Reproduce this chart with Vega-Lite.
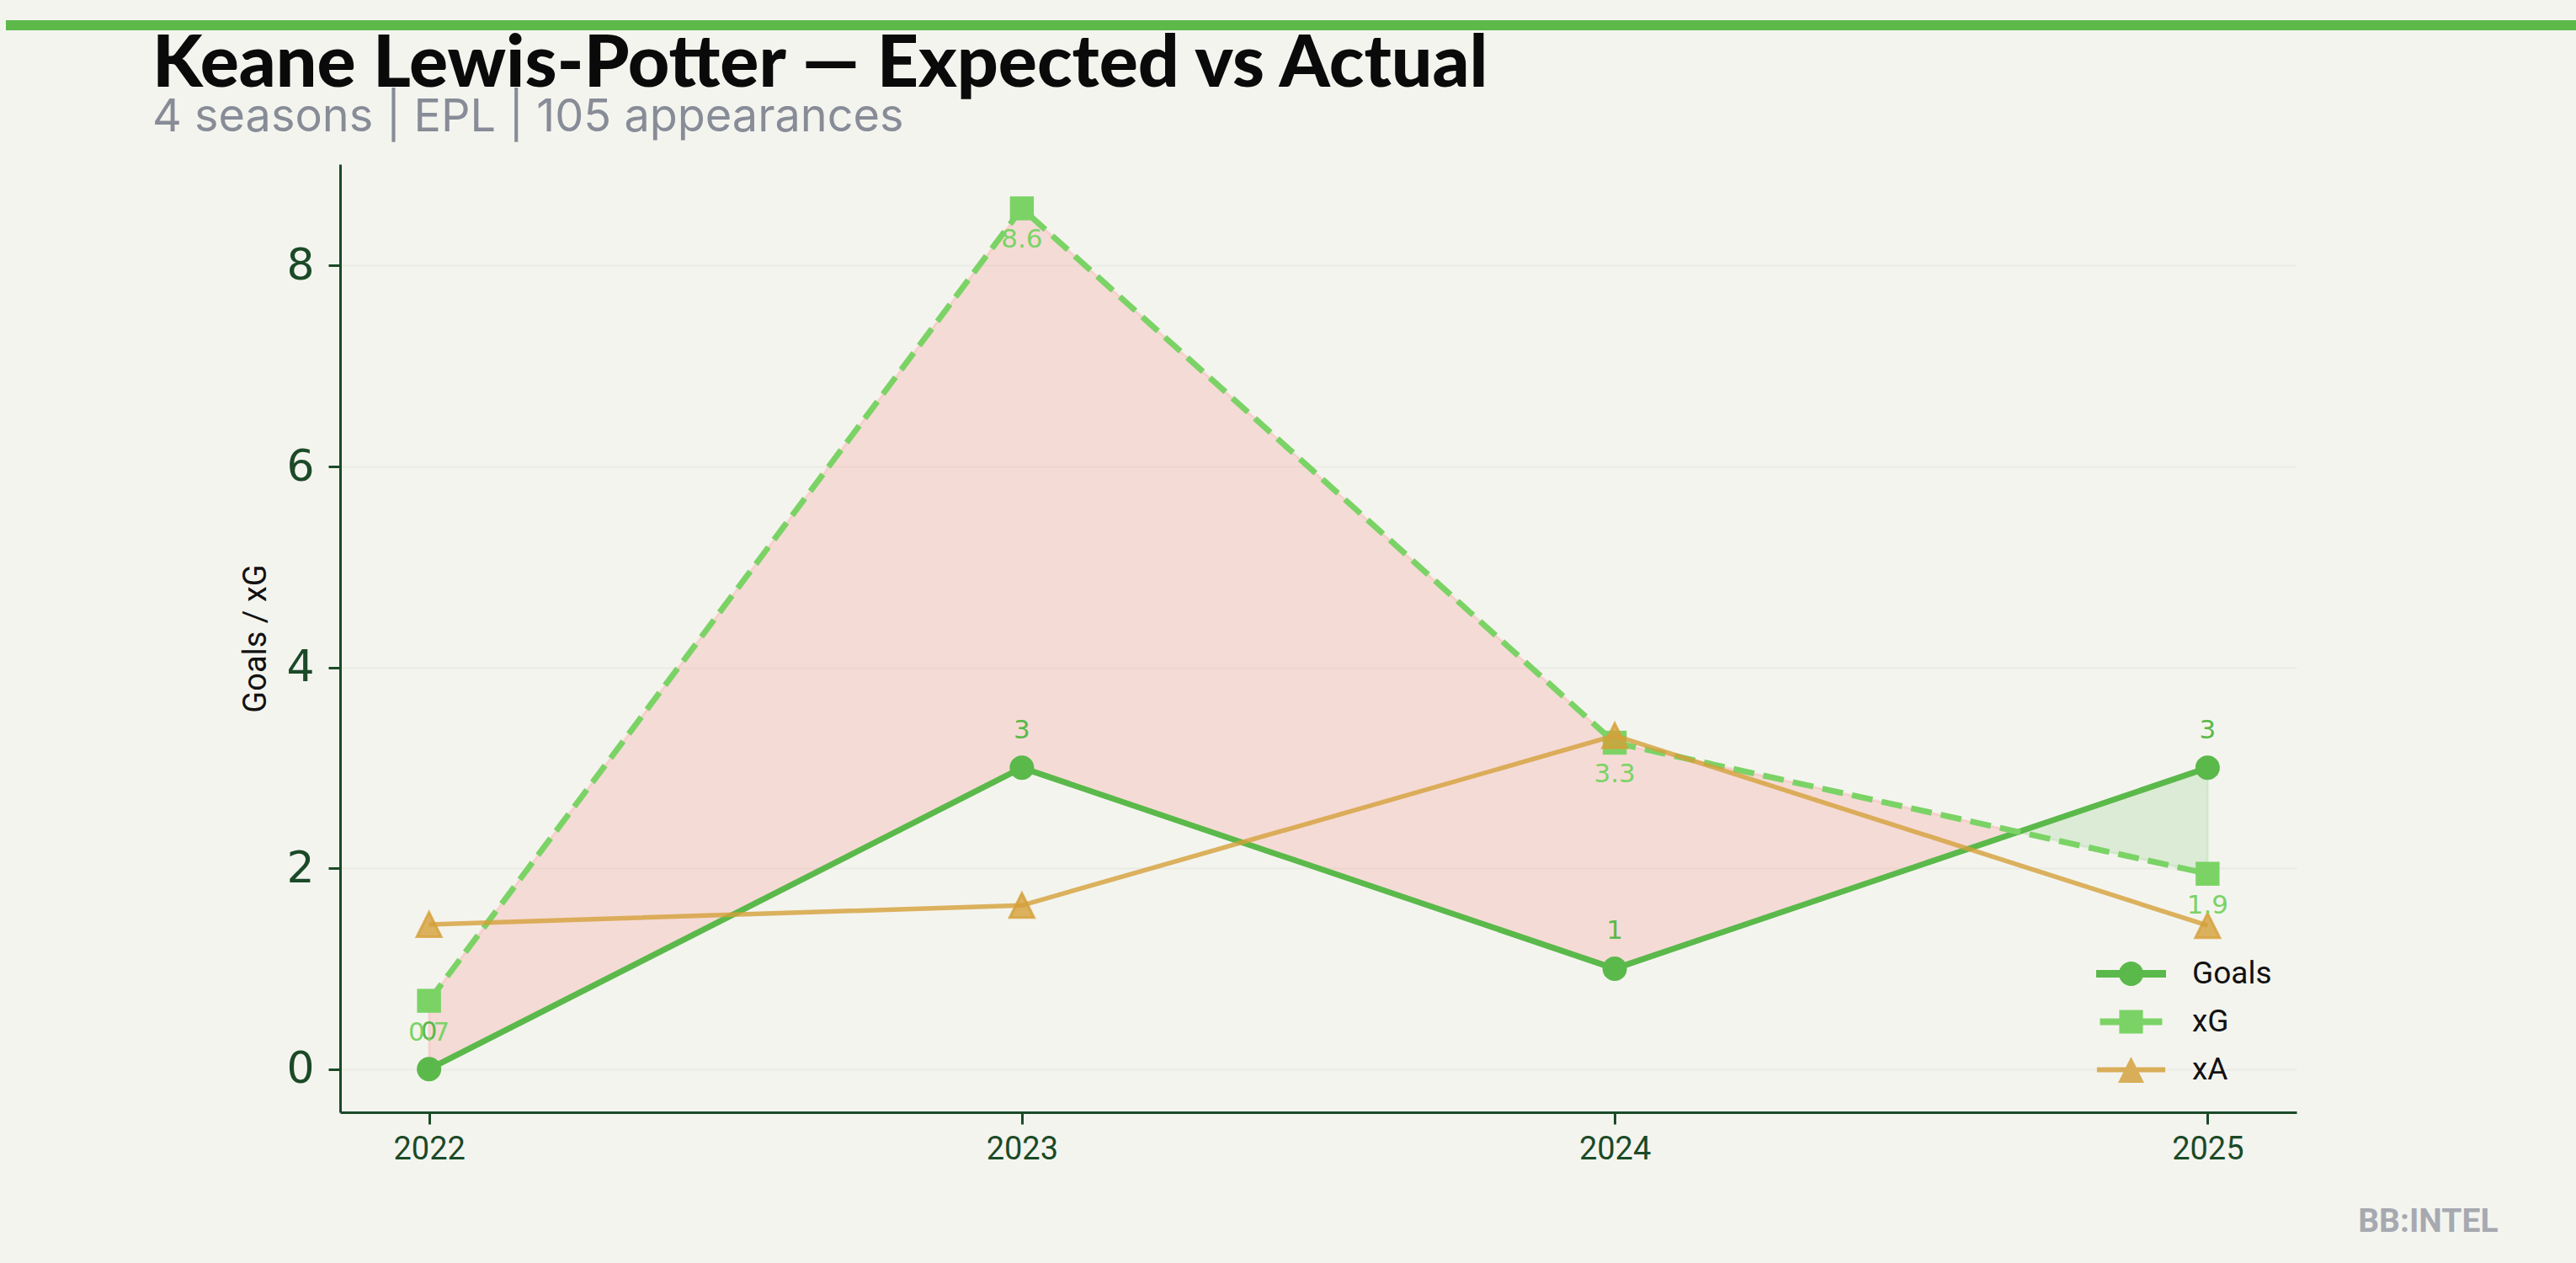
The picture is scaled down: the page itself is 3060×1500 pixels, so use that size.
{
  "$schema": "https://vega.github.io/schema/vega-lite/v6.json",
  "background": "#F4F4EF",
  "autosize": {"type": "none"},
  "padding": {"left": 7, "top": 24, "right": 3053, "bottom": 1476},
  "bounds": "flush",
  "spacing": 159,
  "config": {
    "view": {"stroke": null},
    "axis": {"domainColor": "#1B4A27", "domainWidth": 3, "tickColor": "#1B4A27", "tickWidth": 3, "tickSize": 14, "labelColor": "#1B4A27"}
  },
  "datasets": {
    "stats": [
      {"season": 2022, "series": "Goals", "value": 0},
      {"season": 2023, "series": "Goals", "value": 3},
      {"season": 2024, "series": "Goals", "value": 1},
      {"season": 2025, "series": "Goals", "value": 3},
      {"season": 2022, "series": "xG", "value": 0.68},
      {"season": 2023, "series": "xG", "value": 8.57},
      {"season": 2024, "series": "xG", "value": 3.25},
      {"season": 2025, "series": "xG", "value": 1.945},
      {"season": 2022, "series": "xA", "value": 1.44},
      {"season": 2023, "series": "xA", "value": 1.63},
      {"season": 2024, "series": "xA", "value": 3.32},
      {"season": 2025, "series": "xA", "value": 1.43}
    ],
    "gap": [
      {"season": 2022, "goals": 0, "xg": 0.68, "side": "under"},
      {"season": 2023, "goals": 3, "xg": 8.57, "side": "under"},
      {"season": 2024, "goals": 1, "xg": 3.25, "side": "under"},
      {"season": 2024.68, "goals": 2.36, "xg": 2.36, "side": "under"},
      {"season": 2024.68, "goals": 2.36, "xg": 2.36, "side": "over"},
      {"season": 2025, "goals": 3, "xg": 1.945, "side": "over"}
    ]
  },
  "vconcat": [
    {
      "width": 3053, "height": 12,
      "view": {"fill": "#5CB94A", "stroke": null},
      "data": {"values": [{"k": 1}]},
      "mark": {"type": "point", "opacity": 0},
      "encoding": {}
    },
    {
      "bounds": "flush",
      "spacing": 0,
      "hconcat": [
        {
          "width": 397, "height": 1126,
          "data": {"values": [{"k": 1}]},
          "mark": {"type": "point", "opacity": 0},
          "encoding": {}
        },
        {
          "width": 2324, "height": 1126,
          "title": {
            "text": "Keane Lewis-Potter — Expected vs Actual",
            "subtitle": "4 seasons | EPL | 105 appearances",
            "anchor": "start", "frame": "group", "dx": -223, "offset": 27,
            "font": "Lato", "fontSize": 86, "fontWeight": 900, "color": "#0A0A0A",
            "subtitleFont": "Inter", "subtitleFontSize": 54, "subtitleColor": "#878C97", "subtitlePadding": -8
          },
          "data": {"name": "stats"},
          "encoding": {
            "x": {
              "field": "season", "type": "quantitative",
              "scale": {"domain": [2021.85, 2025.15], "nice": false, "zero": false},
              "axis": {
                "values": [2022, 2023, 2024, 2025], "format": "d", "grid": false, "labelFlush": false,
                "labelFont": "Roboto", "labelFontSize": 38, "labelPadding": 11,
                "title": "BB:INTEL", "titleFont": "Roboto", "titleFontWeight": "bold", "titleFontSize": 39,
                "titleColor": "#A6A9B0", "titleX": 2563, "titleY": 141, "titleAlign": "right", "titleBaseline": "alphabetic"
              }
            }
          },
          "layer": [
            {
              "data": {"name": "gap"},
              "transform": [{"filter": "datum.side === 'under'"}],
              "mark": {"type": "area", "fill": "#FF5048", "fillOpacity": 0.15, "stroke": "#FF5048", "strokeOpacity": 0.12, "strokeWidth": 3},
              "encoding": {
                "y": {
                  "field": "goals", "type": "quantitative", "title": "Goals / xG",
                  "scale": {"domain": [-0.43, 9.01], "nice": false, "zero": false},
                  "axis": {
                    "values": [0, 2, 4, 6, 8], "format": "d", "grid": true, "gridColor": "#EAEBE4", "gridWidth": 2,
                    "labelFont": "DejaVu Sans", "labelFontSize": 52, "labelPadding": 17,
                    "title": "Goals / xG", "titleFont": "Roboto", "titleFontSize": 38, "titleFontWeight": "normal",
                    "titleColor": "#111111", "titleX": -100, "titleY": 563, "titleAngle": -90,
                    "titleAlign": "center", "titleBaseline": "middle"
                  }
                },
                "y2": {"field": "xg", "title": "Goals / xG"}
              }
            },
            {
              "data": {"name": "gap"},
              "transform": [{"filter": "datum.side === 'over'"}],
              "mark": {"type": "area", "fill": "#5AB94A", "fillOpacity": 0.15, "stroke": "#5AB94A", "strokeOpacity": 0.12, "strokeWidth": 3},
              "encoding": {
                "y": {"field": "goals", "type": "quantitative", "title": "Goals / xG"},
                "y2": {"field": "xg", "title": "Goals / xG"}
              }
            },
            {
              "transform": [{"filter": "datum.series === 'Goals'"}],
              "mark": {"type": "line", "color": "#5AB94A", "strokeWidth": 7},
              "encoding": {"y": {"field": "value", "type": "quantitative", "title": "Goals / xG"}}
            },
            {
              "transform": [{"filter": "datum.series === 'Goals'"}],
              "mark": {"type": "point", "shape": "circle", "filled": true, "color": "#5AB94A", "opacity": 1, "size": 841},
              "encoding": {"y": {"field": "value", "type": "quantitative", "title": "Goals / xG"}}
            },
            {
              "transform": [{"filter": "datum.series === 'xG'"}],
              "mark": {"type": "line", "color": "#7BD366", "strokeWidth": 7, "strokeDash": [25, 11]},
              "encoding": {"y": {"field": "value", "type": "quantitative", "title": "Goals / xG"}}
            },
            {
              "transform": [{"filter": "datum.series === 'xG'"}],
              "mark": {"type": "point", "shape": "square", "filled": true, "color": "#7BD366", "opacity": 1, "size": 810},
              "encoding": {"y": {"field": "value", "type": "quantitative", "title": "Goals / xG"}}
            },
            {
              "transform": [{"filter": "datum.series === 'xA'"}],
              "mark": {"type": "line", "color": "#D4A03A", "strokeWidth": 5.5, "opacity": 0.8},
              "encoding": {"y": {"field": "value", "type": "quantitative", "title": "Goals / xG"}}
            },
            {
              "transform": [{"filter": "datum.series === 'xA'"}],
              "mark": {"type": "point", "shape": "M0,-1L1,1L-1,1Z", "filled": true, "fill": "#D4A03A", "fillOpacity": 0.8, "stroke": "#D4A03A", "strokeOpacity": 0.8, "strokeWidth": 3, "size": 841},
              "encoding": {"y": {"field": "value", "type": "quantitative", "title": "Goals / xG"}}
            },
            {
              "transform": [{"filter": "datum.series === 'Goals'"}],
              "mark": {"type": "text", "color": "#5AB94A", "font": "DejaVu Sans", "fontSize": 31, "dy": -44, "baseline": "middle", "align": "center"},
              "encoding": {
                "y": {"field": "value", "type": "quantitative", "title": "Goals / xG"},
                "text": {"field": "value", "type": "quantitative", "format": ".0f"}
              }
            },
            {
              "transform": [{"filter": "datum.series === 'xG'"}],
              "mark": {"type": "text", "color": "#7BD366", "font": "DejaVu Sans", "fontSize": 31, "dy": 38, "baseline": "middle", "align": "center"},
              "encoding": {
                "y": {"field": "value", "type": "quantitative", "title": "Goals / xG"},
                "text": {"field": "value", "type": "quantitative", "format": ".1f"}
              }
            },
            {
              "mark": {"type": "point", "filled": true, "opacity": 0},
              "encoding": {
                "y": {"field": "value", "type": "quantitative", "title": "Goals / xG"},
                "shape": {
                  "field": "series", "type": "nominal",
                  "scale": {
                    "domain": ["Goals", "xG", "xA"],
                    "range": [
                      "M-2.86,-0.31H2.86V0.31H-2.86Z M1,0A1,1 0 1,1 -1,0A1,1 0 1,1 1,0Z",
                      "M-2.55,-0.28H2.55V0.28H-2.55Z M-0.97,-0.97H0.97V0.97H-0.97Z",
                      "M-2.8,-0.2H2.8V0.2H-2.8Z M0,-1.07L1.07,1.07L-1.07,1.07Z"
                    ]
                  },
                  "legend": {
                    "title": null, "orient": "none", "legendX": 2506, "legendY": 1114, "padding": 0,
                    "symbolSize": 841, "labelFont": "Roboto", "labelFontSize": 37, "labelColor": "#111111",
                    "labelOffset": 54, "rowPadding": 19, "symbolStrokeWidth": 0,
                    "encode": {"symbols": {"update": {"opacity": {"value": 1}, "fillOpacity": {"value": 1}, "strokeWidth": {"value": 0}}}}
                  }
                },
                "color": {
                  "field": "series", "type": "nominal",
                  "scale": {"domain": ["Goals", "xG", "xA"], "range": ["#5AB94A", "#7BD366", "#D9AE58"]},
                  "legend": {
                    "title": null, "orient": "none", "legendX": 2506, "legendY": 1114, "padding": 0,
                    "symbolSize": 841, "labelFont": "Roboto", "labelFontSize": 37, "labelColor": "#111111",
                    "labelOffset": 54, "rowPadding": 19, "symbolStrokeWidth": 0,
                    "encode": {"symbols": {"update": {"opacity": {"value": 1}, "fillOpacity": {"value": 1}, "strokeWidth": {"value": 0}}}}
                  }
                }
              }
            }
          ]
        }
      ]
    }
  ]
}
